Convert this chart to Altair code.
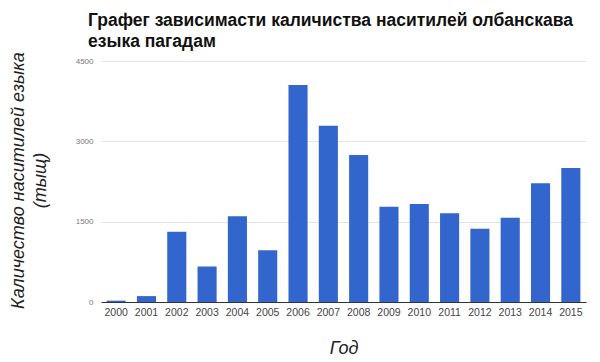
import altair as alt
import pandas as pd

years = ["2000", "2001", "2002", "2003", "2004", "2005", "2006", "2007",
         "2008", "2009", "2010", "2011", "2012", "2013", "2014", "2015"]
speakers = [25, 110, 1310, 665, 1600, 965, 4050, 3290,
            2745, 1780, 1830, 1655, 1370, 1575, 2215, 2500]
y_ticks = [0, 1500, 3000, 4500]

df = pd.DataFrame({"year": years, "value": speakers})

FONT = "Liberation Sans"

chart = alt.Chart(df).mark_bar(color="#3366CC").encode(
    x=alt.X("year:N", sort=years,
            scale=alt.Scale(paddingInner=0.37, paddingOuter=0.185),
            axis=alt.Axis(title="Год", labelAngle=0, labelFontSize=10.5,
                          labelColor="#444444", labelFont=FONT, labelPadding=5,
                          ticks=False, domain=True, domainColor="#333333",
                          titleFont=FONT, titleFontSize=18, titleFontStyle="italic",
                          titleFontWeight="normal", titleColor="#222222",
                          titleY=51, titleBaseline="alphabetic")),
    y=alt.Y("value:Q", scale=alt.Scale(domain=[0, 4500], nice=False),
            axis=alt.Axis(values=y_ticks, format="d",
                          title=["Каличество наситилей езыка", "(тыщ)"],
                          labelFontSize=8, labelColor="#777777", labelFont=FONT,
                          labelPadding=8, ticks=False, domain=False,
                          gridColor="#e4e4e4", grid=True,
                          titleFont=FONT, titleFontSize=18, titleFontStyle="italic",
                          titleFontWeight="normal", titleColor="#222222",
                          titleX=-92, titleY=119, titleAngle=-90,
                          titleAlign="center", titleBaseline="top",
                          titleLineHeight=22)),
).properties(
    width=485, height=241,
    title=alt.TitleParams(
        text=["Графег зависимасти каличиства наситилей олбанскава", "езыка пагадам"],
        anchor="start", frame="group", font=FONT, fontSize=17.5, fontWeight="bold",
        color="#111111", lineHeight=21, dx=-13, offset=1),
    padding={"left": 93, "top": 53, "right": 6, "bottom": 58},
    autosize="none",
).configure_view(stroke=None)

chart.save("out.html", embed_options={"renderer": "svg", "actions": False})
